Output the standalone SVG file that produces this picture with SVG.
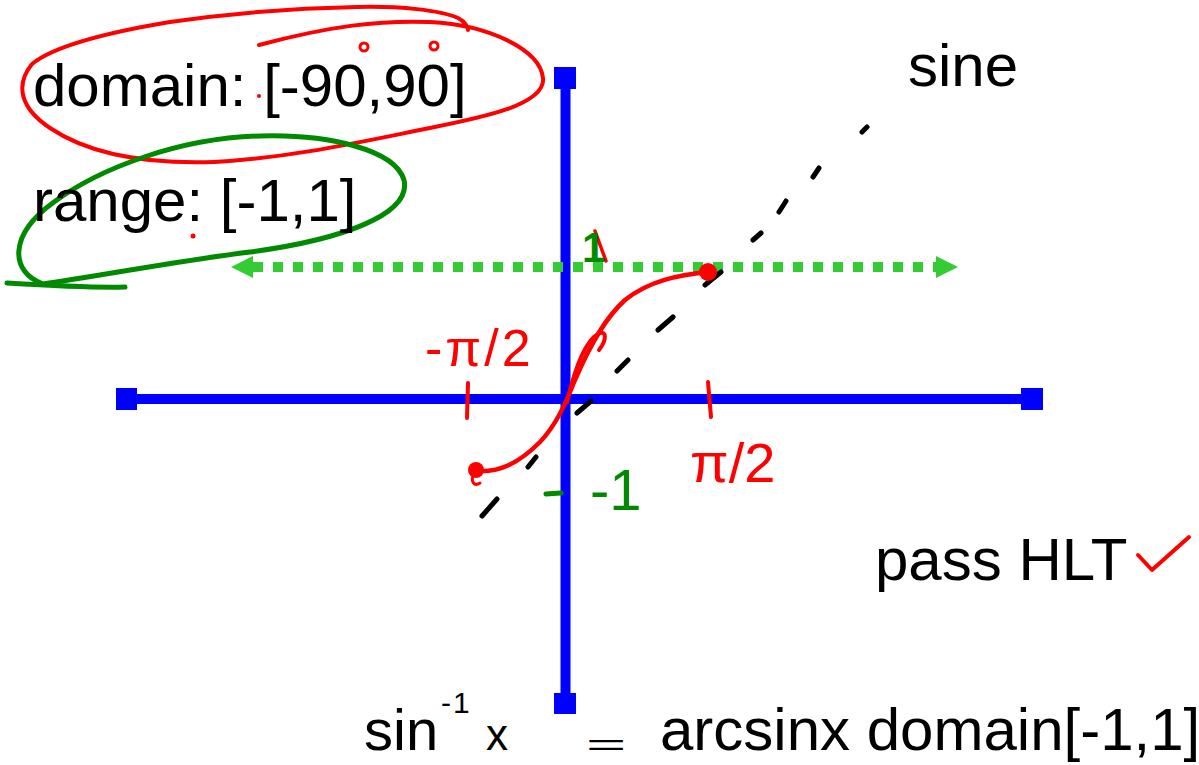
<svg xmlns="http://www.w3.org/2000/svg" width="1199" height="765" viewBox="0 0 1199 765">
<defs>
<style>
.t{font-family:"Liberation Sans",Arial,sans-serif;fill:#000}
.axis{stroke:#0000FF;stroke-width:10;fill:none}
.end{fill:#0000FF}
.red{stroke:#FF0000;fill:none;stroke-linecap:round;stroke-linejoin:round}
.grn{stroke:#008A00;fill:none;stroke-linecap:round;stroke-linejoin:round}
.hand{font-family:"Liberation Sans",Arial,sans-serif}
</style>
<marker id="ga" viewBox="0 0 22 22" refX="0" refY="11" markerWidth="22" markerHeight="22" markerUnits="userSpaceOnUse" orient="auto-start-reverse">
<path d="M0,0 L22,11 L0,22 z" fill="#33CC33"/>
</marker>
</defs>
<rect width="1199" height="765" fill="#fff"/>

<g id="axes">
<line class="axis" x1="126" y1="399" x2="1032" y2="399"/>
<line class="axis" x1="565.5" y1="78" x2="565.5" y2="703"/>
<rect class="end" x="116" y="388" width="21" height="22"/>
<rect class="end" x="1021" y="388" width="22" height="22"/>
<rect class="end" x="554" y="67" width="22" height="22"/>
<rect class="end" x="554" y="693" width="22" height="21"/>
</g>

<g id="connectors">
<line x1="253" y1="267" x2="936" y2="267" stroke="#33CC33" stroke-width="10" stroke-dasharray="10 10" marker-start="url(#ga)" marker-end="url(#ga)"/>
<path id="sine-dashes" d="M482,516 L497,499 M528,467 L536,457 M577,413 L591,401 M617,371 L628,360 M658,330 L673,317 M705,285 L721,272 M753,240 L761,233 M779,212 L786,201 M813,177 L819,168 M862,132 L867,127" stroke="#000" stroke-width="5" stroke-linecap="round" fill="none"/>
<g id="arcsin-curve">
<path class="red" stroke-width="4.5" d="M476,471 C 500,473 520,462 540,442 C 556,425 565,405 575,380 C 590,345 605,318 625,300 C 650,280 680,275 708,272"/>
<path class="red" stroke-width="4" d="M567,402 C 574,372 584,342 598,334 C 607,329 607,340 599,350"/>
<circle cx="476" cy="470" r="8" fill="#FF0000"/>
<path class="red" stroke-width="3" d="M474,474 C 470,481 474,487 480,483"/>
<circle cx="708" cy="272" r="9" fill="#FF0000"/>
</g>
</g>

<g id="ticks">
<line class="red" stroke-width="4" x1="468" y1="383" x2="467" y2="418"/>
<line class="red" stroke-width="4" x1="708" y1="382" x2="711" y2="417"/>
<line class="grn" stroke-width="5" x1="546" y1="494" x2="561" y2="493"/>
</g>

<g id="domain-label">
<path class="red" stroke-width="4" d="M259,45 C 330,26 380,20 430,22 C 490,25 540,50 543,78 C 546,105 480,118 430,128 C 360,142 290,158 214,162 C 150,164 90,155 50,128 C 20,108 15,85 32,64 C 55,45 110,32 170,22 C 240,12 300,8 357,7 C 400,6 440,10 458,18 C 466,22 468,28 468,30"/>
<text class="t" x="33" y="106" font-size="60">domain: [-90,90]</text>
<circle cx="364" cy="47" r="4" class="red" stroke-width="3"/>
<circle cx="434" cy="46" r="4" class="red" stroke-width="3"/>
<circle cx="259" cy="96" r="2" fill="#FF0000"/>
</g>

<g id="range-label">
<path class="grn" stroke-width="5" d="M7,283 C 40,285 90,288 125,287"/>
<path class="grn" stroke-width="5" d="M43,284 C 10,272 8,235 54,202 C 100,168 180,138 260,136 C 330,134 395,150 404,180 C 412,215 340,240 250,252 C 170,262 100,276 43,284"/>
<text class="t" x="33" y="221" font-size="60">range: [-1,1]</text>
<circle cx="193" cy="236" r="2.5" fill="#FF0000"/>
</g>

<g id="sine-label">
<text class="t" x="908" y="86" font-size="60">sine</text>
</g>

<g id="y1-label">
<line class="red" stroke-width="3.5" x1="595" y1="231" x2="606" y2="261"/>
<text class="hand" x="582" y="262" font-size="42" font-weight="bold" fill="#008A00">1</text>
</g>

<g id="yneg1-label">
<text class="hand" x="590" y="510" font-size="58" fill="#008A00">-1</text>
</g>

<g id="neg-pi-half">
<text class="hand" x="425" y="366" font-size="52" fill="#FF0000" letter-spacing="3">-π/2</text>
</g>

<g id="pi-half">
<text class="hand" x="690" y="482" font-size="56" fill="#FF0000">π/2</text>
</g>

<g id="pass-hlt">
<text class="t" x="875" y="580" font-size="60">pass HLT</text>
<path class="red" stroke-width="4" d="M1138,555 L1152,570 L1189,537"/>
</g>

<g id="arcsin-label">
<text class="hand" x="364" y="750" font-size="58" fill="#000">sin</text>
<text class="hand" x="441" y="713" font-size="30" fill="#000" letter-spacing="2">-1</text>
<text class="hand" x="486" y="750" font-size="44" fill="#000">x</text>
<text class="hand" font-size="30" fill="#000" transform="translate(586,755) scale(2.3,1)">=</text>
<text class="t" x="660" y="750" font-size="60">arcsinx domain[-1,1]</text>
</g>
</svg>
